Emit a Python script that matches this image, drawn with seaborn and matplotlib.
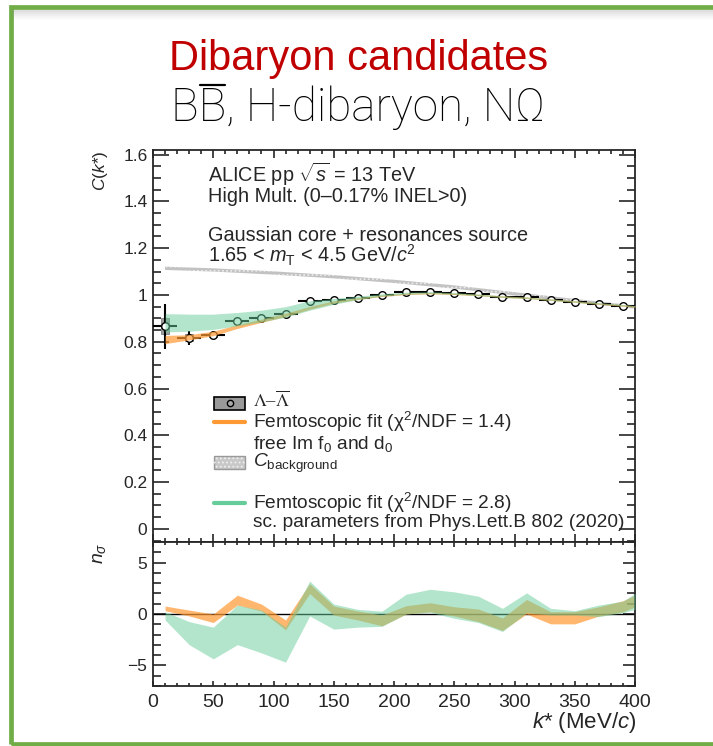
import numpy as np
import pandas as pd
import matplotlib
matplotlib.use("Agg")
import matplotlib.pyplot as plt
import seaborn as sns
from matplotlib.patches import Rectangle
from matplotlib.lines import Line2D
from matplotlib.ticker import MultipleLocator

# ---------------- data ----------------
k_star = [10, 30, 50, 70, 90, 110, 130, 150, 170, 190, 210, 230, 250, 270, 290, 310, 330, 350, 370, 390]
c_values = [0.866, 0.817, 0.830, 0.889, 0.902, 0.919, 0.975, 0.978, 0.989, 1.000,
            1.011, 1.014, 1.009, 1.003, 0.992, 0.990, 0.978, 0.971, 0.963, 0.954]
c_stat = [0.095, 0.030, 0.012, 0.008, 0.007, 0.006, 0.006, 0.005, 0.005, 0.004,
          0.004, 0.004, 0.004, 0.004, 0.004, 0.004, 0.004, 0.004, 0.004, 0.004]
c_sys = [0.035, 0.014, 0.008, 0.005, 0.004, 0.004, 0.004, 0.003, 0.003, 0.003,
         0.003, 0.003, 0.003, 0.003, 0.003, 0.003, 0.003, 0.003, 0.003, 0.003]

fit_k = [10, 30, 50, 70, 90, 110, 130, 150, 170, 190, 210, 230, 250, 270, 290, 310, 330, 350, 370, 390, 400]
fit1_lo = [0.792, 0.808, 0.826, 0.857, 0.883, 0.908, 0.939, 0.965, 0.981, 0.994, 1.002, 1.005, 1.002,
           0.997, 0.990, 0.985, 0.977, 0.969, 0.960, 0.952, 0.948]
fit1_hi = [0.827, 0.830, 0.845, 0.873, 0.897, 0.922, 0.951, 0.975, 0.989, 1.000, 1.008, 1.011, 1.008,
           1.003, 0.996, 0.991, 0.983, 0.975, 0.966, 0.958, 0.954]
fit2_lo = [0.842, 0.845, 0.853, 0.868, 0.885, 0.905, 0.935, 0.960, 0.980, 0.995, 1.003, 1.006, 1.003,
           0.997, 0.990, 0.985, 0.977, 0.969, 0.961, 0.953, 0.949]
fit2_hi = [0.920, 0.918, 0.918, 0.925, 0.935, 0.950, 0.975, 0.985, 0.995, 1.005, 1.012, 1.014, 1.010,
           1.004, 0.996, 0.991, 0.983, 0.975, 0.967, 0.959, 0.955]

bg_k = [10, 50, 100, 150, 200, 250, 300, 350, 400]
bg_c = [1.114, 1.107, 1.094, 1.078, 1.058, 1.034, 1.005, 0.976, 0.948]

ns_k = fit_k
ns1_hi = [0.77, 0.38, 0.00, 1.83, 0.96, -0.58, 2.95, 0.77, 0.29, -0.10, 0.80, 1.09, 0.70, 0.48,
          -0.39, 1.41, 0.22, 0.22, 0.70, 1.28, 1.83]
ns1_lo = [0.32, -0.19, -0.83, 0.87, 0.29, -1.54, 1.99, -0.10, -0.58, -1.15, 0.00, 0.22, -0.19, -0.74,
          -1.60, 0.00, -0.96, -0.96, -0.20, 0.22, 0.70]
ns2_hi = [0.22, -0.74, -1.28, 0.87, 0.38, -1.28, 3.20, 0.96, 0.45, 0.27, 1.92, 2.40, 2.15, 1.73,
          0.55, 2.05, 0.55, 0.32, 0.87, 1.25, 2.00]
ns2_lo = [-0.58, -2.98, -4.36, -2.98, -3.78, -4.68, -0.19, -1.47, -1.28, -1.20, 0.00, 0.16, -0.42, -0.83,
          -1.70, 0.13, -0.10, -0.10, -0.26, 0.13, 0.45]

ORANGE = "#ff9933"
GREEN = "#66cc99"

# ---------------- style ----------------
sns.set_style("ticks")
plt.rcParams["font.family"] = ["Liberation Sans", "DejaVu Sans"]
plt.rcParams["mathtext.fontset"] = "custom"
plt.rcParams["mathtext.rm"] = "Liberation Sans"
plt.rcParams["mathtext.it"] = "Liberation Sans:italic"
plt.rcParams["mathtext.sf"] = "Liberation Sans"
plt.rcParams["axes.linewidth"] = 1.3
plt.rcParams["hatch.linewidth"] = 0.8

fig = plt.figure(figsize=(7.13, 7.46), dpi=100)
ax1 = fig.add_axes([0.2146, 0.2735, 0.676, 0.5255])
ax2 = fig.add_axes([0.2146, 0.0804, 0.676, 0.1931])

df = pd.DataFrame({"k": k_star, "C": c_values, "stat": c_stat, "sys": c_sys})

# background band
ax1.fill_between(bg_k, np.array(bg_c) - 0.007, np.array(bg_c) + 0.007,
                 facecolor="#c2c2c2", edgecolor="#ececec", hatch="....", linewidth=0, zorder=1)
# systematic boxes
ax1.bar(df["k"], 2 * df["sys"], bottom=df["C"] - df["sys"], width=7,
        color="#8a8a8a", edgecolor="#555555", linewidth=0.5, alpha=0.8, zorder=2)
# stat errors
ax1.errorbar(df["k"], df["C"], xerr=10, yerr=df["stat"], fmt="none",
             ecolor="black", elinewidth=1.5, capsize=0, zorder=3)
sns.scatterplot(data=df, x="k", y="C", ax=ax1, marker="o", s=30, color="white",
                edgecolor="black", linewidth=1.0, zorder=4, legend=False)
# fit bands
ax1.fill_between(fit_k, fit1_lo, fit1_hi, color=ORANGE, alpha=0.7, linewidth=0, zorder=5)
ax1.fill_between(fit_k, fit2_lo, fit2_hi, color=GREEN, alpha=0.5, linewidth=0, zorder=6)

ax1.set_xlim(0, 400)
ax1.set_ylim(-0.056, 1.62)
ax1.yaxis.set_minor_locator(MultipleLocator(0.05))
ax1.xaxis.set_major_locator(MultipleLocator(50))
ax1.xaxis.set_minor_locator(MultipleLocator(10))
ax1.set_yticks([0, 0.2, 0.4, 0.6, 0.8, 1.0, 1.2, 1.4, 1.6])
ax1.set_yticklabels(["0", "0.2", "0.4", "0.6", "0.8", "1", "1.2", "1.4", "1.6"])
ax1.tick_params(axis="both", which="both", direction="in", top=True, right=True, width=1.2)
ax1.tick_params(axis="y", which="major", length=11.5, labelsize=12.5, pad=4)
ax1.tick_params(axis="y", which="minor", length=5.8)
ax1.tick_params(axis="x", which="major", length=5.8, labelbottom=False)
ax1.tick_params(axis="x", which="minor", length=3.2)
ax1.set_xlabel("")
ax1.set_ylabel("")

# lower panel
ax2.axhline(0, color="black", lw=1.0, zorder=1)
ax2.fill_between(ns_k, ns1_lo, ns1_hi, color=ORANGE, alpha=0.7, linewidth=0, zorder=2)
ax2.fill_between(ns_k, ns2_lo, ns2_hi, color=GREEN, alpha=0.5, linewidth=0, zorder=3)
ax2.set_xlim(0, 400)
ax2.set_ylim(-7, 7)
ax2.yaxis.set_minor_locator(MultipleLocator(1))
ax2.xaxis.set_major_locator(MultipleLocator(50))
ax2.xaxis.set_minor_locator(MultipleLocator(10))
ax2.set_yticks([-5, 0, 5])
ax2.set_yticklabels(["\u22125", "0", "5"])
ax2.tick_params(axis="both", which="both", direction="in", top=True, right=True, width=1.2)
ax2.tick_params(axis="y", which="major", length=9, labelsize=12.5, pad=4)
ax2.tick_params(axis="y", which="minor", length=5.5)
ax2.tick_params(axis="x", which="major", length=3.8, labelsize=14, pad=6)
ax2.tick_params(axis="x", which="minor", length=2)
ax2.set_xlabel("")
ax2.set_ylabel("")

# axis titles
fig.text(100 / 713, 1 - 150 / 746, r"$C$($k$*)", rotation=90, ha="center", va="top", fontsize=12.5)
fig.text(100 / 713, 1 - 543 / 746, r"$n_{\sigma}$", rotation=90, ha="center", va="top", fontsize=14)
fig.text(636 / 713, 1 - 728 / 746, r"$k$* (MeV/$c$)", ha="right", va="baseline", fontsize=16)

# info texts (axes-fraction positions from pixels)
def ay(py):
    return (542 - py) / 392

def axx(px):
    return (px - 153) / 482

tx = axx(208)
info_fs = 14.3
ax1.text(tx, ay(182), r"ALICE pp $\sqrt{s}$ = 13 TeV", transform=ax1.transAxes, fontsize=info_fs, va="baseline")
ax1.text(tx, ay(202), "High Mult. (0\u20130.17% INEL>0)", transform=ax1.transAxes, fontsize=info_fs, va="baseline")
ax1.text(tx, ay(241), "Gaussian core + resonances source", transform=ax1.transAxes, fontsize=info_fs, va="baseline")
ax1.text(tx, ay(263), r"1.65 < $m_{\rm T}$ < 4.5 GeV/$c^{2}$", transform=ax1.transAxes, fontsize=info_fs, va="baseline")

# legend (manual)
lx0, lx1 = axx(214), axx(245)
ltx = axx(253)
bh = 13 / 392
leg_fs = 13.8
ax1.add_patch(Rectangle((lx0, ay(403.3) - bh / 2), lx1 - lx0, bh, transform=ax1.transAxes,
                        facecolor="#999999", edgecolor="black", lw=1.2, zorder=7))
ax1.plot([(lx0 + lx1) / 2], [ay(403.3)], marker="o", ms=4.5, mfc="#aaaaaa", mec="black", mew=1.0,
         transform=ax1.transAxes, zorder=8)
ax1.text(ltx, ay(407.5), "$\\Lambda$\u2013$\\overline{\\Lambda}$", transform=ax1.transAxes,
         fontsize=13.2, va="baseline", math_fontfamily="stix", fontfamily="Liberation Serif")
ax1.add_line(Line2D([lx0, lx1], [ay(422.3)] * 2, transform=ax1.transAxes, color=ORANGE, lw=3))
ax1.text(ltx, ay(428.5), "Femtoscopic fit (\u03c7$^{2}$/NDF = 1.4)", transform=ax1.transAxes, fontsize=leg_fs, va="baseline")
ax1.text(ltx, ay(449), r"free Im f$_{0}$ and d$_{0}$", transform=ax1.transAxes, fontsize=leg_fs, va="baseline")
ax1.add_patch(Rectangle((lx0, ay(463) - bh / 2), lx1 - lx0, bh, transform=ax1.transAxes,
                        facecolor="#c8c8c8", edgecolor="#999999", lw=1.0, zorder=7))
ax1.add_patch(Rectangle((lx0, ay(463) - bh / 2), lx1 - lx0, bh, transform=ax1.transAxes,
                        facecolor="none", edgecolor="#efefef", hatch="....", lw=0, zorder=7))
ax1.text(ltx, ay(467.5), r"$C_{\rm background}$", transform=ax1.transAxes, fontsize=leg_fs, va="baseline")
ax1.add_line(Line2D([lx0, lx1], [ay(503.3)] * 2, transform=ax1.transAxes, color=GREEN, lw=3))
ax1.text(ltx, ay(509), "Femtoscopic fit (\u03c7$^{2}$/NDF = 2.8)", transform=ax1.transAxes, fontsize=leg_fs, va="baseline")
ax1.text(ltx, ay(527.5), "sc. parameters from Phys.Lett.B 802 (2020)", transform=ax1.transAxes, fontsize=leg_fs, va="baseline")

# titles
fig.text(359 / 713, 1 - 70 / 746, "Dibaryon candidates", ha="center", va="baseline",
         fontsize=30, color="#c00000")
t2props = dict(fontsize=33, fontfamily=["Roboto", "DejaVu Sans"], fontweight="light", color="black")
t2 = fig.text(358 / 713, 1 - 121 / 746, "BB, H-dibaryon, N\u03a9", ha="center", va="baseline", **t2props)

# slide frame
fig.add_artist(Rectangle((11 / 713, 2.5 / 746), 1.2, 1 - 9 / 746, transform=fig.transFigure,
                         fill=False, edgecolor="#70ad47", lw=3.4, zorder=0))
for i, a in enumerate([0.25, 0.18, 0.12, 0.07, 0.03]):
    yy = 1 - (10.5 + 2 * i) / 746
    fig.add_artist(Line2D([13 / 713, 1], [yy, yy], transform=fig.transFigure, color="gray", alpha=a, lw=1.5))

# overline on the second B
fig.canvas.draw()
r = fig.canvas.get_renderer()
bb = t2.get_window_extent(r)
tmp = fig.text(0, 0, "B", **t2props)
wB = tmp.get_window_extent(r).width
tmp.remove()
tmp = fig.text(0, 0, "BB", **t2props)
wBB = tmp.get_window_extent(r).width
tmp.remove()
ybar = 1 - 85 / 746
fig.add_artist(Line2D([(bb.x0 + wB + 1) / 713, (bb.x0 + wBB - 1) / 713], [ybar, ybar],
                      transform=fig.transFigure, color="black", lw=1.6))

fig.savefig("out.png", dpi=100)
